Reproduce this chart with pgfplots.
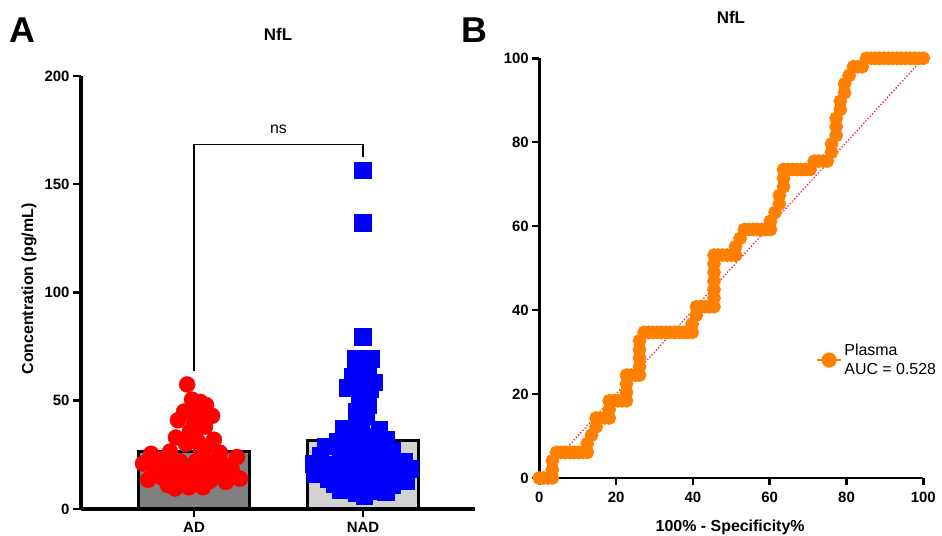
\documentclass[border=0pt]{standalone}
\usepackage{fontspec}
\setmainfont{Liberation Sans}
\usepackage{pgfplots}
\usepackage{pgfplotstable}
\pgfplotsset{compat=1.18}

\definecolor{rocorange}{HTML}{FF8000}
\definecolor{refline}{HTML}{F0303C}
\definecolor{adfill}{HTML}{808080}
\definecolor{nadfill}{HTML}{D2D2D2}
\definecolor{adred}{HTML}{FF0000}
\definecolor{nadblue}{HTML}{0000FF}

% individual NfL values; AD sits at x = 0.669, NAD at x = 1.669, spread sideways
\pgfplotstableread{
x y
0.628 57.5
0.657 50.5
0.705 49.5
0.740 48
0.610 45
0.699 44
0.776 43
0.574 41
0.669 40
0.734 38
0.645 36
0.562 33
0.787 32
0.693 31
0.622 30
0.734 28
0.527 26.5
0.415 25.5
0.923 24
0.468 23
0.586 22
0.681 22
0.781 21.5
0.367 21
0.858 20
0.527 19.5
0.728 19
0.633 18
0.894 18
0.438 17
0.811 16.5
0.562 15.5
0.687 15
0.480 14.5
0.941 14
0.397 13.5
0.764 13
0.858 12.5
0.622 12
0.515 11
0.722 10
0.557 9.5
0.639 10
0.409 20.5
0.705 23.5
0.823 26
0.675 34
0.663 46
0.675 17.5
}\addata

\pgfplotstableread{
x y
1.669 156.5
1.669 132.3
1.669 79.6
1.622 69.5
1.716 69.5
1.645 66
1.699 65
1.604 61
1.669 59
1.734 58.5
1.580 56
1.710 55.5
1.651 51
1.699 48
1.628 45
1.687 43
1.639 40.5
1.551 37
1.657 37
1.764 36.5
1.604 34
1.710 33.5
1.805 32
1.521 31
1.651 30
1.450 29
1.592 28
1.746 28
1.841 27
1.681 26
1.533 25
1.415 24.5
1.793 24
1.622 23
1.912 22
1.722 21.5
1.379 21
1.491 20.5
1.841 20
1.568 19.5
1.663 19
1.947 18.5
1.438 18
1.770 17.5
1.616 17
1.876 16.5
1.385 16
1.533 15.5
1.710 15
1.817 14.5
1.462 14
1.639 13.5
1.923 13
1.562 12.5
1.746 12
1.503 11.5
1.841 11
1.663 10.5
1.592 10
1.781 9.5
1.533 9
1.699 8.5
1.805 8
1.628 7.5
1.675 6
}\naddata

% ROC curve: 100% - specificity vs sensitivity
\pgfplotstableread{
fpr tpr
0 0
1.1 0
2.3 0
3.4 0
3.4 2.0
3.4 4.1
4.5 6.1
5.7 6.1
6.8 6.1
8.0 6.1
9.1 6.1
10.2 6.1
11.4 6.1
12.5 6.1
12.5 8.2
13.6 10.2
14.8 12.2
14.8 14.3
15.9 14.3
17.0 14.3
18.2 14.3
18.2 16.3
18.2 18.4
19.3 18.4
20.5 18.4
21.6 18.4
22.7 18.4
22.7 20.4
22.7 22.4
22.7 24.5
23.9 24.5
25.0 24.5
26.1 24.5
26.1 26.5
26.1 28.6
26.1 30.6
26.1 32.7
27.3 34.7
28.4 34.7
29.5 34.7
30.7 34.7
31.8 34.7
33.0 34.7
34.1 34.7
35.2 34.7
36.4 34.7
37.5 34.7
38.6 34.7
39.8 34.7
39.8 36.7
40.9 38.8
40.9 40.8
42.0 40.8
43.2 40.8
44.3 40.8
45.5 40.8
45.5 42.9
45.5 44.9
45.5 46.9
45.5 49.0
45.5 51.0
45.5 53.1
46.6 53.1
47.7 53.1
48.9 53.1
50.0 53.1
51.1 53.1
51.1 55.1
52.3 57.1
53.4 59.2
54.5 59.2
55.7 59.2
56.8 59.2
58.0 59.2
59.1 59.2
60.2 59.2
60.2 61.2
61.4 63.3
62.5 65.3
62.5 67.3
63.6 69.4
63.6 71.4
63.6 73.5
64.8 73.5
65.9 73.5
67.0 73.5
68.2 73.5
69.3 73.5
70.5 73.5
71.6 75.5
72.7 75.5
73.9 75.5
75.0 75.5
76.1 77.6
76.1 79.6
77.3 81.6
77.3 83.7
77.3 85.7
78.4 87.8
78.4 89.8
79.5 91.8
79.5 93.9
80.7 95.9
81.8 98.0
83.0 98.0
84.1 98.0
85.2 100
86.4 100
87.5 100
88.6 100
89.8 100
90.9 100
92.0 100
93.2 100
94.3 100
95.5 100
96.6 100
97.7 100
98.9 100
100 100
}\rocdata

\pgfplotsset{
  panel/.style={
    scale only axis,
    clip=false,
    axis x line=bottom,
    axis y line=left,
    axis line style={-, black},
    tick align=outside,
    major tick length=7bp,
    minor tick num=0,
    tick style={black, line width=2.5bp},
    /pgf/number format/assume math mode=true,
    tick label style={font=\bfseries\fontsize{15}{15}\selectfont, black},
    title style={font=\bfseries\fontsize{17}{17}\selectfont},
  },
}

\begin{document}
\begin{tikzpicture}
\path[use as bounding box] (0,0) rectangle (942bp,536bp);

% panel letters
\node[anchor=base west, inner sep=0pt, font=\bfseries\fontsize{36}{36}\selectfont] at (9bp,493bp) {A};
\node[anchor=base west, inner sep=0pt, font=\bfseries\fontsize{36}{36}\selectfont] at (461bp,493bp) {B};

% ---- A: group concentrations ----
\begin{axis}[panel,
  at={(81bp,27bp)}, anchor=origin,
  width=394bp, height=433bp,
  xmin=0, xmax=2.332, ymin=0, ymax=200,
  axis line style={line width=3bp},
  xtick={0.669,1.669}, xticklabels={AD,NAD},
  xticklabel style={yshift=-1.5bp},
  ytick={0,50,100,150,200},
  major tick length=8bp,
  title={NfL},
  title style={at={(axis description cs:0.5,1.083)}, anchor=center},
  ylabel={Concentration (pg/mL)},
  every axis y label/.style={at={(axis description cs:-0.132,0.508)}, rotate=90, anchor=center,
    font=\bfseries\fontsize{16}{16}\selectfont},
]
\addplot[ybar, bar width=0.657, fill=adfill, draw=black, line width=3bp, forget plot] coordinates {(0.669,26.5)};
\addplot[ybar, bar width=0.657, fill=nadfill, draw=black, line width=3bp, forget plot] coordinates {(1.669,31.6)};

\addplot[adred, line width=1.5bp, mark=none, forget plot,
  error bars/.cd, y dir=plus, y explicit,
  error bar style={adred, line width=1.5bp},
  error mark options={adred, line width=1.5bp, mark size=27.5bp}]
  coordinates {(0.669,26.5) +- (0,12.3)};
\addplot[nadblue, line width=1.5bp, mark=none, forget plot,
  error bars/.cd, y dir=plus, y explicit,
  error bar style={nadblue, line width=1.5bp},
  error mark options={nadblue, line width=1.5bp, mark size=28bp}]
  coordinates {(1.669,31.6) +- (0,26.9)};

\addplot[only marks, mark=*, mark size=8bp, mark options={fill=adred, draw=adred}] table[x=x, y=y] {\addata};
\addplot[only marks, mark=square*, mark size=8.3bp, mark options={fill=nadblue, draw=nadblue}] table[x=x, y=y] {\naddata};

% significance bracket
\addplot[black, line width=1.5bp, mark=none] coordinates {(0.669,63.7) (0.669,168.4) (1.669,168.4) (1.669,162.6)};
\node[anchor=base, font=\fontsize{16}{16}\selectfont] at (axis cs:1.169,168.4) [yshift=11bp] {ns};
\end{axis}

% ---- B: ROC curve ----
\begin{axis}[panel,
  at={(539.3bp,58bp)}, anchor=origin,
  width=384bp, height=419.7bp,
  xmin=0, xmax=100, ymin=0, ymax=100,
  axis line style={line width=2.7bp},
  xtick={0,20,...,100}, ytick={0,20,...,100},
  xticklabel style={yshift=-4bp},
  title={NfL},
  title style={at={(axis description cs:0.499,1.083)}, anchor=center},
  xlabel={100\% - Specificity\%},
  every axis x label/.style={at={(axis description cs:0.497,-0.117)}, anchor=center,
    font=\bfseries\fontsize{16}{16}\selectfont},
  legend style={at={(axis cs:71.2,28.1)}, anchor=west, draw=none, fill=none,
    font=\fontsize{16}{19}\selectfont, cells={anchor=west, align=left}},
  legend image code/.code={
    \draw[mark repeat=2, mark phase=2, #1, mark size=6.3bp]
      plot coordinates {(0bp,0bp) (12bp,0bp) (24bp,0bp)};
  },
]
\addplot[refline, line width=1.3bp, dash pattern=on 1.4bp off 1.8bp, forget plot] coordinates {(0,0) (100,100)};
\addplot[rocorange, line width=2.5bp, mark=*, mark size=5.6bp, mark options={fill=rocorange, draw=rocorange}] table[x=fpr, y=tpr] {\rocdata};
\addlegendentry{Plasma\\AUC = 0.528}
\end{axis}
\end{tikzpicture}
\end{document}
